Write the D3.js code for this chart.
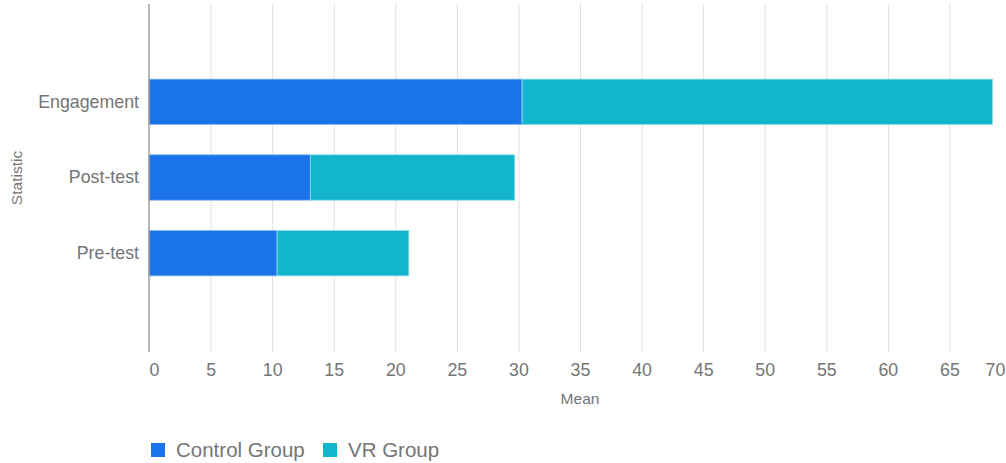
<!DOCTYPE html>
<html>
<head>
<meta charset="utf-8">
<script src="https://cdn.jsdelivr.net/npm/d3@7"></script>
<style>
  html, body { margin: 0; padding: 0; background: #fff; overflow: hidden; }
  svg { display: block; font-family: Arial, "Liberation Sans", sans-serif; }
</style>
</head>
<body>
<div id="chart"></div>
<script>
const CATEGORIES = ['Engagement', 'Post-test', 'Pre-test']
const CONTROL = [30.3, 13.1, 10.4]
const VR = [38.2, 16.6, 10.7]
const SERIES = ['Control Group', 'VR Group']
const X_TICKS = [0, 5, 10, 15, 20, 25, 30, 35, 40, 45, 50, 55, 60, 65, 70]

const COLORS = { 'Control Group': '#1a73e8', 'VR Group': '#12b5cb' }
const STROKES = { 'Control Group': '#8ab8f2', 'VR Group': '#8fe0ea' }

const W = 1006, H = 463
const svg = d3.select('#chart').append('svg')
  .attr('width', W).attr('height', H)

const x = d3.scaleLinear().domain([0, 70]).range([149, 1011])
const y = d3.scaleBand().domain(CATEGORIES).range([64, 291])
  .paddingInner(0.4).paddingOuter(0.2)

const PLOT_TOP = 4, PLOT_BOTTOM = 352

// grid
svg.append('g').selectAll('line').data(X_TICKS.slice(1)).join('line')
  .attr('x1', d => x(d) + 0.5).attr('x2', d => x(d) + 0.5)
  .attr('y1', PLOT_TOP).attr('y2', PLOT_BOTTOM)
  .attr('stroke', '#e0e0e0').attr('stroke-width', 1)

// stacked bars
const rows = CATEGORIES.map((c, i) => ({ cat: c, 'Control Group': CONTROL[i], 'VR Group': VR[i] }))
const stacked = d3.stack().keys(SERIES)(rows)

svg.append('g').selectAll('g').data(stacked).join('g')
  .attr('fill', d => COLORS[d.key])
  .attr('stroke', d => STROKES[d.key])
  .selectAll('rect').data(d => d).join('rect')
  .attr('x', d => x(d[0]))
  .attr('y', d => y(d.data.cat))
  .attr('width', d => x(d[1]) - x(d[0]))
  .attr('height', y.bandwidth())
  .attr('stroke-width', 0.8)

// baseline axis
svg.append('line')
  .attr('x1', x(0)).attr('x2', x(0))
  .attr('y1', PLOT_TOP).attr('y2', PLOT_BOTTOM)
  .attr('stroke', '#9e9e9e').attr('stroke-width', 1.5)

// x axis labels (end labels nudged inward like the original)
const xAxis = d3.axisBottom(x).tickValues(X_TICKS).tickSize(0).tickPadding(0)
svg.append('g')
  .attr('transform', `translate(0,${PLOT_BOTTOM})`)
  .call(xAxis)
  .call(g => g.select('.domain').remove())
  .call(g => g.selectAll('text')
    .attr('dy', null).attr('y', 24)
    .attr('x', d => d === 0 ? 5 : d === 70 ? -16 : 0)
    .attr('fill', '#757575')
    .attr('font-size', 17.8)
    .attr('font-family', 'Arial, "Liberation Sans", sans-serif'))

// y axis labels
const yAxis = d3.axisLeft(y).tickSize(0).tickPadding(10)
svg.append('g')
  .attr('transform', `translate(${x(0)},0)`)
  .call(yAxis)
  .call(g => g.select('.domain').remove())
  .call(g => g.selectAll('text')
    .attr('fill', '#757575')
    .attr('font-size', 17.8)
    .attr('font-family', 'Arial, "Liberation Sans", sans-serif'))

// axis titles
svg.append('text')
  .attr('x', (x(0) + x(70)) / 2).attr('y', 404)
  .attr('text-anchor', 'middle')
  .attr('fill', '#757575').attr('font-size', 15.5)
  .text('Mean')

svg.append('text')
  .attr('transform', 'translate(22,178) rotate(-90)')
  .attr('text-anchor', 'middle')
  .attr('fill', '#757575').attr('font-size', 15.5)
  .text('Statistic')

// legend
const legendX = [151, 323]
const legend = svg.append('g').selectAll('g').data(SERIES).join('g')
  .attr('transform', (d, i) => `translate(${legendX[i]},443)`)
legend.append('rect')
  .attr('width', 14).attr('height', 14)
  .attr('fill', d => COLORS[d])
legend.append('text')
  .attr('x', 25).attr('y', 14)
  .attr('fill', '#757575').attr('font-size', 20.5)
  .text(d => d)
</script>
</body>
</html>
